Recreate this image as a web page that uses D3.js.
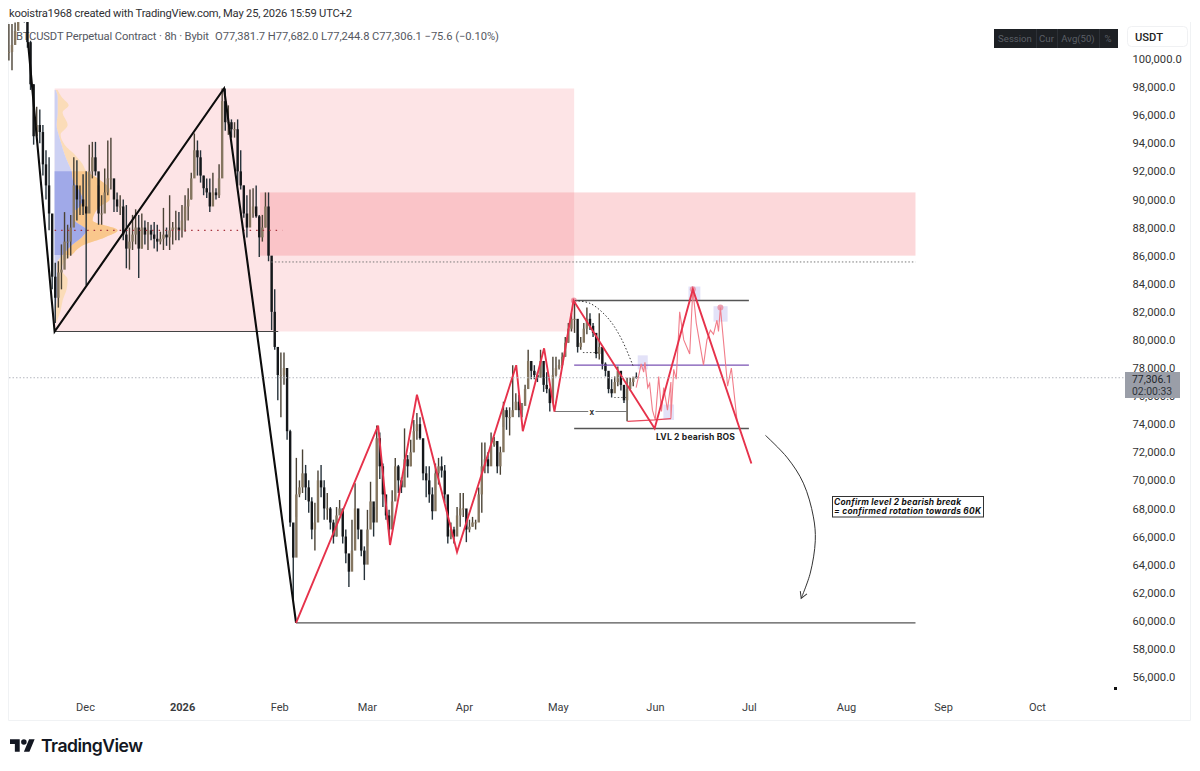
<!DOCTYPE html>
<html>
<head>
<meta charset="utf-8">
<title>BTCUSDT Perpetual Contract 8h</title>
<script src="https://cdn.jsdelivr.net/npm/d3@7/dist/d3.min.js"></script>
<style>
  html, body { margin: 0; padding: 0; background: #fff; }
  svg { display: block; }
  text { font-family: Roboto, "Noto Sans", sans-serif; }
  .note { font-family: Inter, "Noto Sans", sans-serif; }
</style>
</head>
<body>
<svg id="chart" width="1200" height="771"></svg>
<script>
// Price series in thousand USDT, sampled evenly between the first and last visible bar.
const firstBarOffset = -24.3;
const barStepDays = 0.987;
const highs = [102.5,102.5,102.6,105,106,104.5,102.6,101.3,98.2,96.6,96.4,95.3,93.5,93,87.9,85.5,85.6,86.8,89.1,88.2,88.9,93,92.8,91,91.8,92,93.9,94.1,94.1,91,90.3,92.2,94.2,94.4,90.7,90.5,90.3,90,89.6,88,88.9,89.3,88.9,89,88.5,88.4,88.2,88.4,88.2,87.7,89.4,88,90.3,88.4,89.2,89.1,89.6,90.3,90.8,91.9,94.7,94.2,93.5,91.7,91.5,91.5,91.9,90.8,92.5,97.9,97.9,96.7,95.7,95.5,95.7,93.5,91,90.3,90.7,90.8,91,88.9,88.9,90.5,90.5,85.7,83.6,79.3,79.1,79.1,77.1,73.6,66.7,71.6,70,72.2,71.1,70,68.8,68.4,70.7,71.1,70,69.1,68.1,67.2,68.1,68.6,67.7,66.5,64.6,67.2,69.8,67.9,65.8,65.3,67.9,69.9,68.1,73.9,73.4,71.2,68.1,67.9,69.3,71.6,71.1,70.2,73.7,71.8,72.9,74.3,74.8,74.5,71.8,71,71,69.5,71.2,71.6,71.7,71.1,68.4,67,66.7,68.1,69.1,69.1,67.2,67.2,67.4,67.2,69.5,72.7,72.7,72,73.4,73.1,71.3,72.4,75.6,75.2,75.2,78.2,76.2,76.1,75.5,76.8,79.3,78.4,78.2,77.7,79.3,77.6,77.7,76.6,78.8,78.8,78.6,79.1,80.2,81.2,81.9,82.8,80.4,80.2,81.2,82.3,81.9,81.2,80.2,81.9,79.4,78.4,77.6,77.2,77.4,78.1,77.4,76.4,77.3,77.3,77.2,77.682];
const lows = [99.9,99.2,101.2,103,103.5,102.6,100.8,97.8,93.9,95,94,91.7,90,87.8,83.6,81.2,82.3,83.6,85.7,85.8,86,90,88.5,88.9,88.9,83.9,91,91.5,91.7,88.2,88.2,89.8,90.3,90.7,89.1,89.1,88.9,87.1,85.1,85,86.4,86.8,84.4,86.5,86.8,86.4,87.1,86.5,86.3,86.8,86.4,86.7,86.4,86.8,87.1,87.1,87.3,87.7,88.5,90,92,91.7,91.2,90.3,90.1,89.1,89.6,90,90.1,93.2,94.9,94.6,94.4,94.4,91,90.7,88.7,87.3,88.4,88.7,88.7,85.9,87,88,85.6,80.7,79.3,75.7,74.5,76.8,72.9,66.7,61.5,67.4,68.8,69.1,68.6,67.7,65.8,65,68.8,68.8,67.2,67.2,66.5,65.5,66,67.7,65.5,64.1,62.4,63.9,66.5,65.8,64.6,62.9,65.3,67.2,66,67.9,70.1,68.1,67.2,66.1,67.4,69.3,69.1,69.1,70.7,70.2,71,72,72.9,72.9,70,68.8,68.4,67.2,69.3,69.7,70.2,68.4,65.5,65.8,65.5,66.3,66.7,67.4,65.6,66.3,66.7,66.5,67.7,67.7,70.5,70.5,71.2,72.4,70.5,70.4,73.8,73.6,73.2,74.8,75.2,74.5,74.5,75.5,77.2,77.2,77.2,77,77.6,76.3,76.2,74.9,75.6,77.4,77.9,78.1,78.8,79.8,80.6,80.5,79.1,79.3,80,80.4,80.7,80.2,78.7,78.6,77.9,77.4,76.2,75.9,76.5,76.7,76.4,75.5,74.2,76.4,76.7,77.2448];
const closes = [100.5,101,102,104,104,103,101.2,98.2,94.5,95.3,94.8,92.5,91,89,84.5,83,84.8,85,87,87,88,91,90,90,89.5,89,92,93,92,89,89,90.5,91.5,91.5,90,89.5,89.5,87.5,86.5,87,87.5,88,86.5,88,87.5,87.8,87.5,87.2,87,87.2,87.5,87.3,87.8,88,88,87.8,88.5,89.5,90,91.5,93.5,93,91.7,90.8,90.5,89.5,90.5,90.3,91.5,97,95.5,95.5,95,95,92,91,89,88,89,89.5,88.8,87.3,88,89.5,86,82,79.5,77.5,77.5,78,73.5,67,64.5,69,69.5,70.5,69.5,68.5,66.5,67,70,69.5,68,68,67,66,67.5,68,66,64.8,63.5,65,68,66.5,65,64,66.5,68.5,67,73,71,69,67.5,66.5,68.5,71,70,69.5,71.5,71,72,73.5,74,73,70.5,70,69,67.8,70.5,71,70.7,69,66,66.5,66,67.5,68,68,66.5,66.7,67,67,69,71,71.5,71,72.5,72.8,71,72,75,74.5,74.5,75,75.6,75,75.3,76.5,78.5,77.8,77.5,77.3,78.5,76.8,76.5,75.5,77.5,78,78.2,78.8,79.8,80.8,81.5,81.5,79.5,79.8,80.8,81.5,81,80.5,79,79.5,78.3,77.8,76.5,76.2,77,77.8,76.8,75.7,76.5,77,77.3817,77.3061];

// Axis labels
const priceTicks = [100000,98000,96000,94000,92000,90000,88000,86000,84000,82000,80000,78000,76000,74000,72000,70000,68000,66000,64000,62000,60000,58000,56000];
const monthOffsets = [0,31,62,90,121,151,182,212,243,274,304];
const monthLabels = ["Dec","2026","Feb","Mar","Apr","May","Jun","Jul","Aug","Sep","Oct"];
const toolbarLabels = ["Session","Cur","Avg(50)","%"];

// Drawing tools: [days after 1 Dec 2025, thousand USDT]
const blackSwing = [[-18.2,101.2],[-9.7,80.6],[44.4,97.9],[67.4,59.85]];
const redSwing = [[67.4,59.85],[93.6,73.9],[97.4,65.4],[106,76.1],[118.8,64.9],[137.7,78.2],[139.8,73.5],[146.6,79.4],[149.9,74.9],[156,82.8],[181.9,73.7],[194.1,83.6],[212.8,71.2]];
const thinProjection = [[176,76.6],[177.6,78.3],[178.4,77.7],[178.8,78.4],[179.7,76.6],[180.3,76.9],[181.2,75],[182.1,74.3],[183.2,77.4],[184.1,74.9],[184.8,76.6],[186,75],[187.1,77],[187.1,74.4],[188,77.9],[188.8,77.2],[189.9,82],[191.2,80],[193.1,79],[194.1,83.6],[195.2,81.2],[197.5,78.2],[198.6,80],[199.7,80.7],[200.7,80.4],[201.8,81.4],[202.3,80.6],[202.9,82.3],[204.6,78.2],[205.2,76.7],[206.4,78],[208.2,74.3]];
const baseProjection = [[173.2,74.2],[181.9,74.3],[187.1,74.4]];
const roundingArc = [[156.5,82.8],[161.3,82.6],[166.8,81.6],[171,80.2],[175.1,78.1]];
const rotationArrow = [[217.3,73.2],[224.3,71.6],[229.4,69.8],[232.6,67.4],[233.2,65.7],[231.6,63.4],[228.7,61.6]];

// [from day, to day, price, colour, width, dash]
const levels = [
  [-9.7,61.7,80.6,"#444",1.2,null],
  [156.2,212,82.8,"#555",1.5,null],
  [156.2,212,73.7,"#555",1.5,null],
  [156.2,212,78.2,"#7a52b3",1.3,null],
  [67.4,265.2,59.85,"#555",1.3,null],
  [59.5,265.2,85.55,"#777",1,"1.5 2"],
  [-9.7,63,87.8,"#a5333d",1.2,"1.5 5"],
  [159,164.2,79.1,"#555",1,"1.5 2"],
  [169,173,75.9,"#666",1,"1.5 2"],
  [149.9,160.7,74.9,"#777",1.1,null],
  [163,173.2,74.9,"#777",1.1,null]
];
// [from day, to day, low, high]
const zoneLarge = [-9.7,156.2,80.6,97.9];
const zoneSupply = [55.9,265.2,86,90.5];
const highlightBoxes = [[176.5,179.7,77.9,78.9],[184.7,188.1,74.3,75.4],[192.7,196.5,82.8,83.8],[200.7,205.2,81.3,82.4]];
const pivotDots = [[156.1,82.8],[194.1,83.6],[202.9,82.3]];

// Volume profile levels with buy and total volume, on an arbitrary unit scale
const profilePrices = [97.8,97.3,96.7,96.2,95.3,94.6,93.9,93.2,92.5,92,91.4,90.7,90,89.5,89,88.5,87.8,87.3,86.8,86.05,85.6,85,84.3,83.6,82.8,82.1,81.3];
const profileBlue =  [1,3,3,3,2,4,7,10,14,17,18,24,28,25,18,20,32,27,18,8,3,2,3,3,2,1,0];
const profileTotal = [3,7,14,8,13,6,10,20,28,32,45,55,55,45,40,38,63,50,30,17,10,7,13,12,8,6,2];
const valueArea = [86.05,92];

const width = 1200, height = 771;
const plot = { left: 8, right: 1122, top: 22, bottom: 720 };
const svg = d3.select("#chart");

const origin = Date.UTC(2025, 11, 1);
const dayDate = n => new Date(origin + n * 864e5);
const x = d3.scaleUtc().domain([dayDate(0), dayDate(304)]).range([85, 1037]);
const y = d3.scaleLinear().domain([56000, 100000]).range([677, 59]);
const px = d => x(dayDate(d));
const py = k => y(k * 1000);
const lineOf = curve => d3.line().x(d => px(d[0])).y(d => py(d[1])).curve(curve);

// Chart frame
svg.append("rect").attr("width", width).attr("height", height).attr("fill", "#fff");
svg.append("path").attr("fill", "none").attr("stroke", "#f0f2f4").attr("stroke-width", 1)
  .attr("d", "M8.5,22V720.5H1190.5V22");

const defs = svg.append("defs");
defs.append("clipPath").attr("id", "plotClip").append("rect")
  .attr("x", plot.left).attr("y", plot.top)
  .attr("width", plot.right - plot.left).attr("height", plot.bottom - plot.top);
defs.append("clipPath").attr("id", "valueClip").append("rect")
  .attr("x", 0).attr("width", width)
  .attr("y", py(valueArea[1])).attr("height", py(valueArea[0]) - py(valueArea[1]));
defs.append("marker").attr("id", "arrowHead").attr("viewBox", "0 0 10 10")
  .attr("refX", 8).attr("refY", 5).attr("markerWidth", 9).attr("markerHeight", 9)
  .attr("markerUnits", "userSpaceOnUse").attr("orient", "auto")
  .append("path").attr("d", "M1,1L8,5L1,9").attr("fill", "none").attr("stroke", "#333").attr("stroke-width", 1.1);

// Header and legend
svg.append("text").attr("x", 9).attr("y", 17).attr("font-size", 11.2).attr("fill", "#2f3033")
  .attr("textLength", 343).attr("lengthAdjust", "spacing")
  .text("kooistra1968 created with TradingView.com, May 25, 2026 15:59 UTC+2");
svg.append("text").attr("x", 16).attr("y", 40).attr("font-size", 11.2).attr("fill", "#55585f")
  .attr("textLength", 193).attr("lengthAdjust", "spacing")
  .text("BTCUSDT Perpetual Contract · 8h · Bybit");
svg.append("text").attr("x", 215).attr("y", 40).attr("font-size", 11.2).attr("fill", "#55585f")
  .attr("textLength", 284).attr("lengthAdjust", "spacing")
  .text("O77,381.7  H77,682.0  L77,244.8  C77,306.1  −75.6 (−0.10%)");

const chart = svg.append("g").attr("clip-path", "url(#plotClip)");

// Zones
const zone = (z, fill) => chart.append("rect")
  .attr("x", px(z[0])).attr("width", px(z[1]) - px(z[0]))
  .attr("y", py(z[3])).attr("height", py(z[2]) - py(z[3])).attr("fill", fill);
zone(zoneLarge, "#fde4e6");
zone(zoneSupply, "rgba(243,112,120,0.27)");

// Volume profile, light outside the value area and saturated inside it
const profile = profilePrices.map((p, i) => ({ p, blue: profileBlue[i], total: profileTotal[i] }));
const volume = d3.scaleLinear().domain([0, 63]).range([0, 63]);
const x0 = px(zoneLarge[0]);
const orangeArea = d3.area().y(d => py(d.p)).x0(d => x0 + volume(d.blue)).x1(d => x0 + volume(d.total)).curve(d3.curveMonotoneY);
const blueArea = d3.area().y(d => py(d.p)).x0(x0).x1(d => x0 + volume(d.blue)).curve(d3.curveMonotoneY);
const profileGroup = chart.append("g");
profileGroup.append("path").attr("d", orangeArea(profile)).attr("fill", "#fbdcb8");
profileGroup.append("path").attr("d", blueArea(profile)).attr("fill", "#cdd1f3");
const inside = profileGroup.append("g").attr("clip-path", "url(#valueClip)");
inside.append("path").attr("d", orangeArea(profile)).attr("fill", "#f9c78c");
inside.append("path").attr("d", blueArea(profile)).attr("fill", "#a0a9e8");

// Light highlight boxes sit beneath the candles
chart.selectAll(".hl").data(highlightBoxes).join("rect").attr("class", "hl")
  .attr("x", d => px(d[0])).attr("width", d => px(d[1]) - px(d[0]))
  .attr("y", d => py(d[3])).attr("height", d => py(d[2]) - py(d[3]))
  .attr("fill", "#e3e2f8");

// Last price line
svg.append("line").attr("x1", 9).attr("x2", 1125)
  .attr("y1", py(77.3061)).attr("y2", py(77.3061))
  .attr("stroke", "#b5b8bf").attr("stroke-width", 1).attr("stroke-dasharray", "1.5 2");

// Candles
const bars = highs.map((h, i) => ({
  t: firstBarOffset + i * barStepDays, h, l: lows[i], c: closes[i], o: i ? closes[i - 1] : closes[0]
}));
const candles = chart.append("g");
candles.selectAll("line").data(bars).join("line")
  .attr("x1", d => px(d.t)).attr("x2", d => px(d.t))
  .attr("y1", d => py(d.h)).attr("y2", d => py(d.l))
  .attr("stroke", d => d.c >= d.o ? "#4a4235" : "#26323a").attr("stroke-width", 1.4);
candles.selectAll("rect").data(bars).join("rect")
  .attr("x", d => px(d.t) - 1.2).attr("width", 2.4)
  .attr("y", d => Math.min(py(d.o), py(d.c)))
  .attr("height", d => Math.max(1, Math.abs(py(d.o) - py(d.c))))
  .attr("fill", d => d.c >= d.o ? "#857660" : "#14171a");

// Horizontal levels
chart.selectAll(".lvl").data(levels).join("line").attr("class", "lvl")
  .attr("x1", d => px(d[0])).attr("x2", d => px(d[1]))
  .attr("y1", d => py(d[2])).attr("y2", d => py(d[2]))
  .attr("stroke", d => d[3]).attr("stroke-width", d => d[4])
  .attr("stroke-dasharray", d => d[5]);

// Measured-move marker label
chart.append("text").attr("x", px(161.8)).attr("y", py(74.9) + 3.5)
  .attr("text-anchor", "middle").attr("font-size", 9).attr("font-weight", 600).attr("fill", "#333").text("x");

// Pivot markers
chart.selectAll(".pivot").data(pivotDots).join("circle").attr("class", "pivot")
  .attr("cx", d => px(d[0])).attr("cy", d => py(d[1])).attr("r", 3)
  .attr("fill", "#e88a9c").attr("opacity", 0.8);

// Swing lines and projections
chart.append("path").attr("d", lineOf(d3.curveCatmullRom)(roundingArc))
  .attr("fill", "none").attr("stroke", "#333").attr("stroke-width", 1).attr("stroke-dasharray", "1.5 2");
chart.append("path").attr("d", lineOf(d3.curveLinear)(thinProjection))
  .attr("fill", "none").attr("stroke", "#f17c89").attr("stroke-width", 1.1);
chart.append("path").attr("d", lineOf(d3.curveLinear)(baseProjection))
  .attr("fill", "none").attr("stroke", "#e8485c").attr("stroke-width", 1.2);
chart.append("path").attr("d", lineOf(d3.curveLinear)(blackSwing))
  .attr("fill", "none").attr("stroke", "#0c0c0c").attr("stroke-width", 2.1).attr("stroke-linejoin", "miter");
chart.append("path").attr("d", lineOf(d3.curveLinear)(redSwing))
  .attr("fill", "none").attr("stroke", "#e6324b").attr("stroke-width", 1.9).attr("stroke-linejoin", "miter");
chart.append("path").attr("d", lineOf(d3.curveCatmullRom)(rotationArrow))
  .attr("fill", "none").attr("stroke", "#333").attr("stroke-width", 1).attr("marker-end", "url(#arrowHead)");

// Annotations
chart.append("text").attr("class", "note").attr("x", 656).attr("y", 440).attr("font-size", 8.6).attr("font-weight", 700)
  .attr("textLength", 79).attr("lengthAdjust", "spacing").attr("fill", "#222").text("LVL 2 bearish BOS");
const note = chart.append("g");
note.append("rect").attr("x", 832.5).attr("y", 496.5).attr("width", 151).attr("height", 20.5)
  .attr("fill", "#fff").attr("stroke", "#333").attr("stroke-width", 1);
note.append("text").attr("class", "note").attr("x", 834).attr("y", 505).attr("font-size", 8.4).attr("font-weight", 700)
  .attr("font-style", "italic").attr("textLength", 127).attr("lengthAdjust", "spacing")
  .attr("fill", "#111").text("Confirm level 2 bearish break");
note.append("text").attr("class", "note").attr("x", 834).attr("y", 514).attr("font-size", 8.4).attr("font-weight", 700)
  .attr("font-style", "italic").attr("textLength", 147).attr("lengthAdjust", "spacing")
  .attr("fill", "#111").text("= confirmed rotation towards 60K");
chart.append("rect").attr("x", 1114).attr("y", 687).attr("width", 3).attr("height", 3).attr("fill", "#111");

// Price axis
const yAxis = d3.axisRight(y).tickValues(priceTicks).tickFormat(d3.format(",.1f")).tickSize(0).tickPadding(0);
const yG = svg.append("g").attr("transform", "translate(1132.5,0)").call(yAxis);
yG.select(".domain").remove();
yG.selectAll("text").attr("font-size", 11.2).attr("fill", "#333").style("font-family", "Roboto, sans-serif");

// Time axis
const xAxis = d3.axisBottom(x).tickValues(monthOffsets.map(dayDate))
  .tickFormat((d, i) => monthLabels[i]).tickSize(0).tickPadding(0);
const xG = svg.append("g").attr("transform", "translate(0,703)").call(xAxis);
xG.select(".domain").remove();
xG.selectAll("text").attr("font-size", 11).attr("fill", "#3a3c40")
  .attr("font-weight", (d, i) => monthLabels[i] === "2026" ? 700 : 400)
  .style("font-family", "Roboto, sans-serif");

// Scale mode toolbar
const toolbar = svg.append("g");
toolbar.append("rect").attr("x", 994).attr("y", 29).attr("width", 124).attr("height", 19).attr("fill", "#1d2024");
const toolbarCells = [1015, 1046.5, 1078, 1108];
toolbar.selectAll("text").data(toolbarLabels).join("text")
  .attr("x", (d, i) => toolbarCells[i]).attr("y", 42).attr("text-anchor", "middle")
  .attr("font-size", 9.6).attr("fill", "#5b5f66").text(d => d);
[1036, 1057, 1099].forEach(v => toolbar.append("line").attr("x1", v + 0.5).attr("x2", v + 0.5)
  .attr("y1", 29).attr("y2", 48).attr("stroke", "#2c3036"));

// Currency box
svg.append("rect").attr("x", 1127.5).attr("y", 26.5).attr("width", 60).attr("height", 20).attr("rx", 4)
  .attr("fill", "#fff").attr("stroke", "#f0f1f3");
svg.append("text").attr("x", 1135).attr("y", 41).attr("font-size", 11.2).attr("font-weight", 500).attr("fill", "#222").text("USDT");

// Last price tag
svg.append("rect").attr("x", 1125).attr("y", 372).attr("width", 55).attr("height", 26).attr("fill", "#9a9ea8");
svg.append("text").attr("x", 1132).attr("y", 382.5).attr("font-size", 10.4).attr("fill", "#23262b")
  .text(d3.format(",.1f")(closes[closes.length - 1] * 1000));
svg.append("text").attr("x", 1132).attr("y", 395).attr("font-size", 10.4).attr("fill", "#30343a").text("02:00:33");

// Brand mark
const brand = svg.append("g").attr("transform", "translate(10,736.4) scale(0.694)").attr("fill", "#131722");
brand.append("path").attr("d", "M14 22H7V11H0V4h14v18zM28 22h-8l7.5-18h8L28 22z");
brand.append("circle").attr("cx", 20).attr("cy", 8).attr("r", 4);
svg.append("text").attr("class", "note").attr("x", 41).attr("y", 752).attr("font-size", 17.6).attr("font-weight", 600)
  .attr("textLength", 102).attr("lengthAdjust", "spacing").attr("fill", "#131722").text("TradingView");
</script>
</body>
</html>
